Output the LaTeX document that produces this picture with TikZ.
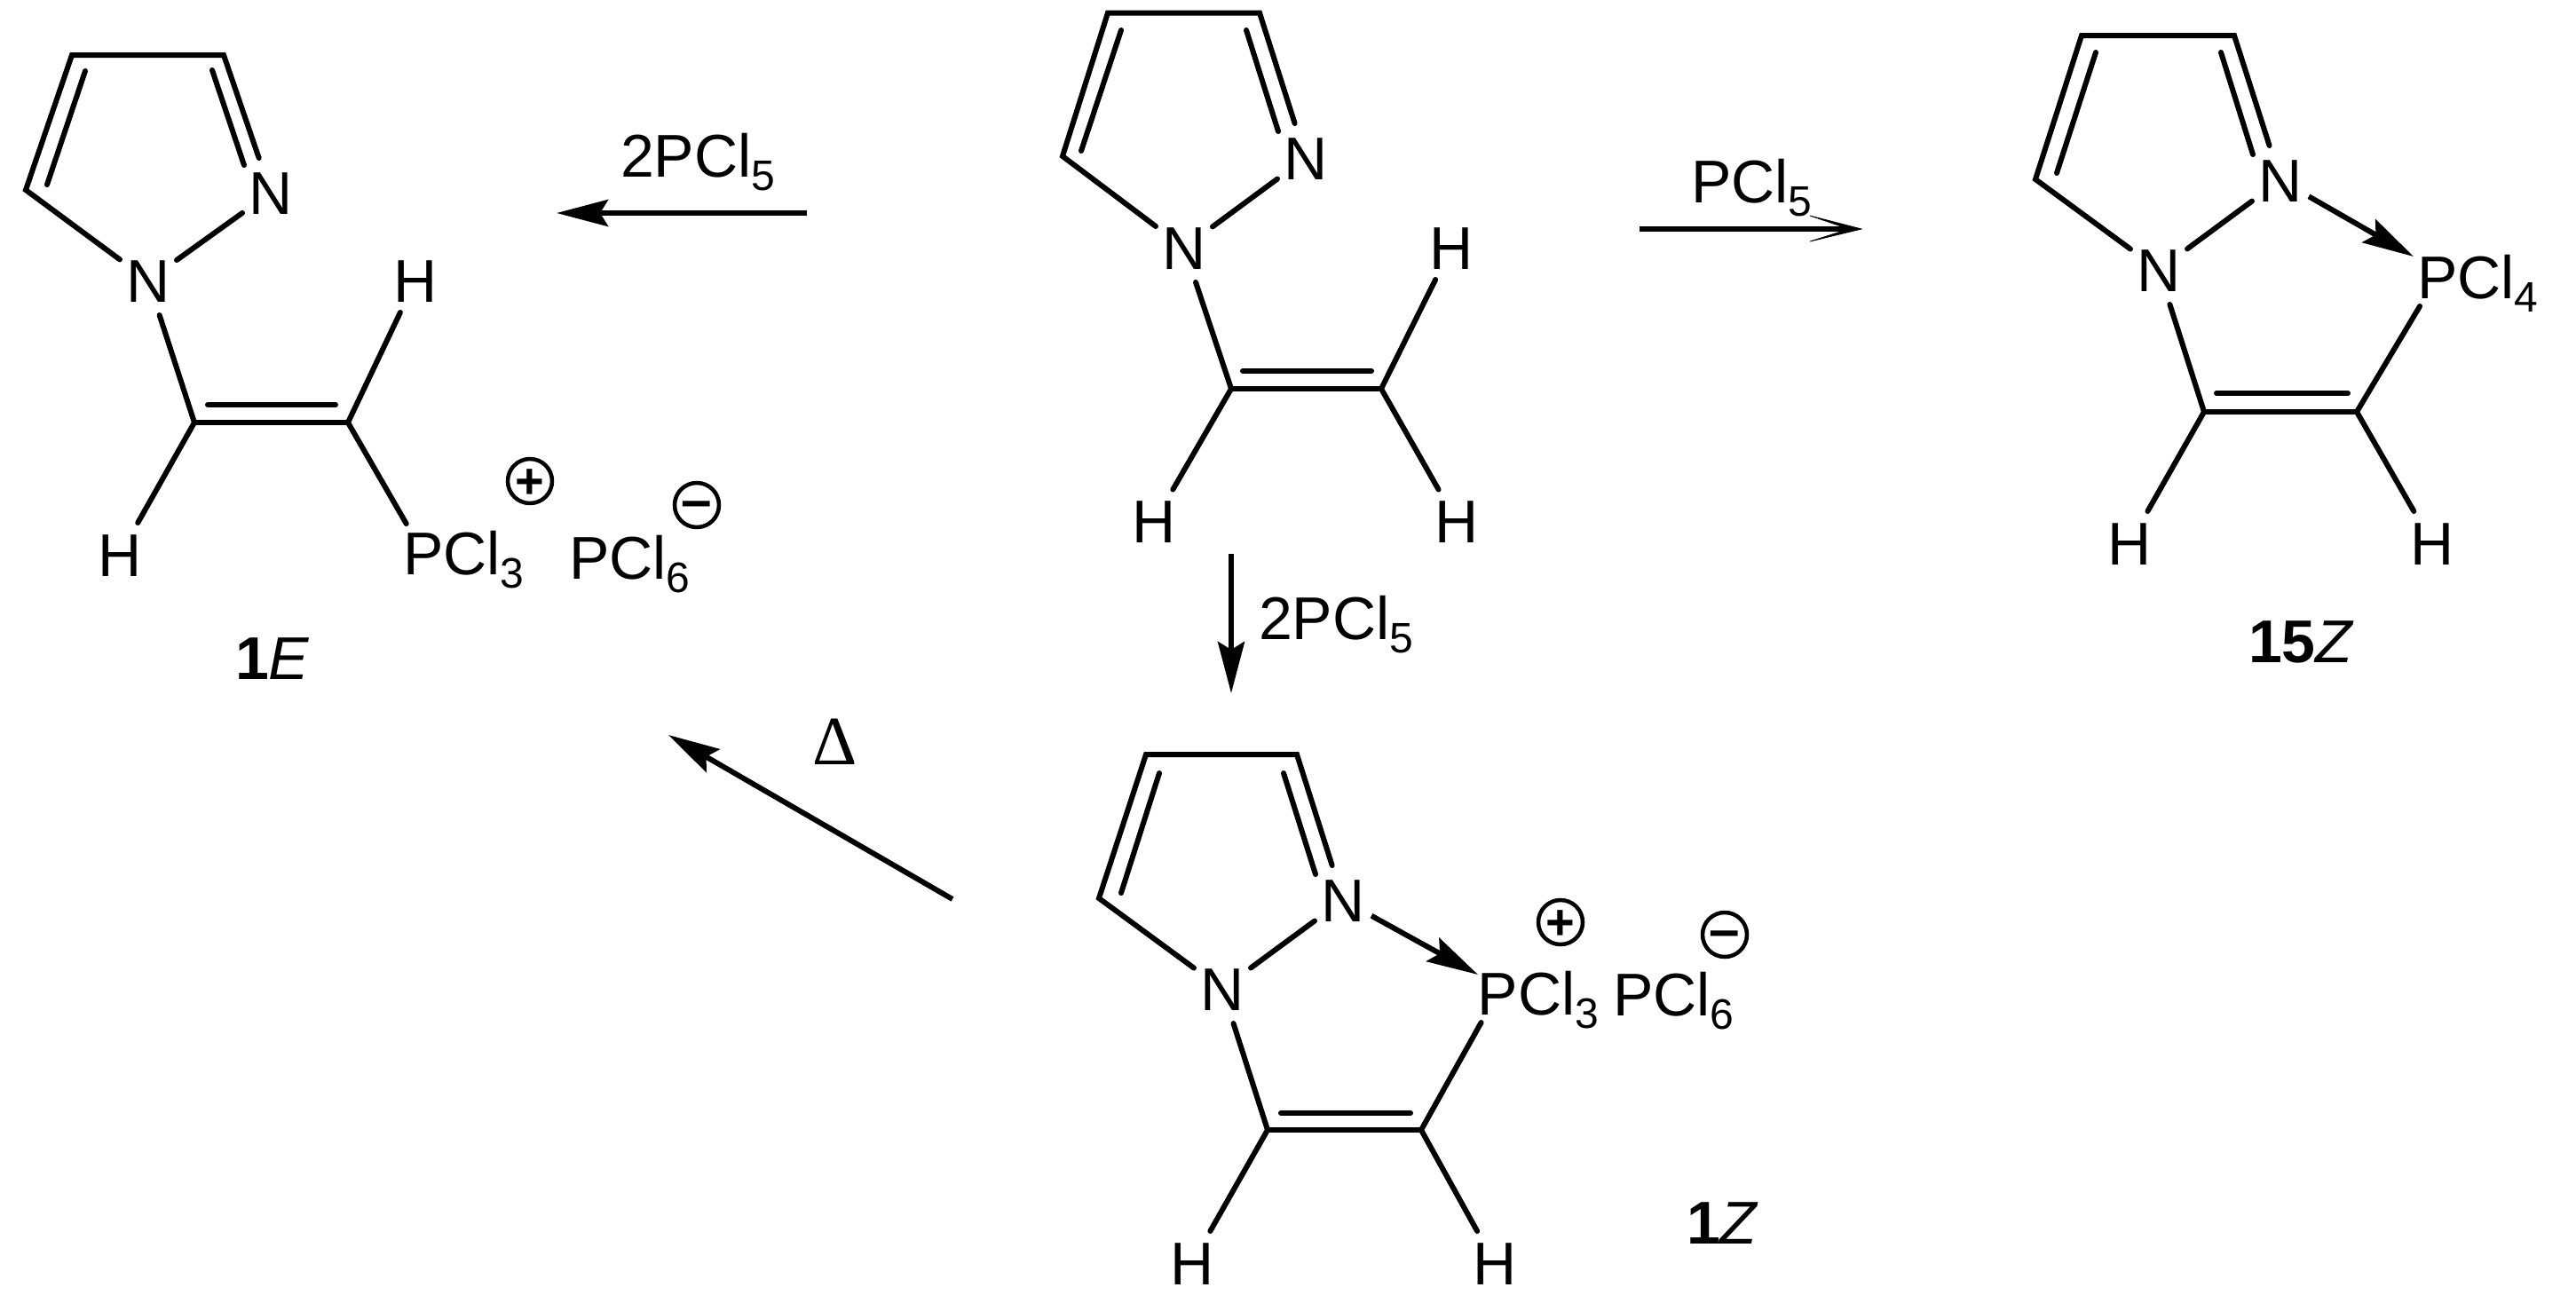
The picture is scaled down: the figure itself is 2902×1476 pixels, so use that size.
\documentclass[tikz,border=0pt]{standalone}
\usepackage{fontspec}
\setmainfont{Liberation Sans}
\newfontfamily\deltafont{Liberation Serif}
\usetikzlibrary{arrows.meta}
\newcommand{\bigtext}{\fontsize{68}{80}\selectfont}
\newcommand{\subdigit}[1]{\raisebox{-15pt}{\fontsize{48}{50}\selectfont #1}}
\tikzset{
  bond/.style={line width=6pt,line cap=round,line join=miter,draw=black},
  rxn/.style={line width=6pt,line cap=butt,draw=black,-{Stealth[length=58pt,width=30pt,inset=9pt]}},
  plainrxn/.style={line width=6pt,line cap=butt,draw=black},
  thinbarb/.style={fill=black,draw=black,line width=0.8pt,line join=miter},
  atom/.style={inner sep=0pt,outer sep=0pt,minimum width=64pt,minimum height=78pt,text height=48.7pt,text depth=0pt,font=\bigtext},
  hatom/.style={atom,minimum height=72pt},
  patom/.style={atom,minimum width=40pt,minimum height=66pt},
  txt/.style={anchor=base west,inner sep=0pt,outer sep=0pt,font=\bigtext},
  chg/.style={circle,draw=black,line width=4.5pt,inner sep=0pt,minimum size=50pt,text height=0pt,text depth=0pt},
}
\newcommand{\pluscharge}{\raisebox{-19pt}[0pt][0pt]{\fontsize{56}{60}\selectfont\bfseries +}}
\newcommand{\minuscharge}{\raisebox{-15pt}[0pt][0pt]{\fontsize{62}{60}\selectfont\bfseries –}}
\begin{document}
\begin{tikzpicture}[x=1pt,y=-1pt]
\useasboundingbox (0,0) rectangle (2902,1476);

% ---- 1E (left)
\coordinate (aTL) at (81,62);
\coordinate (aTR) at (252,62);
\coordinate (aL) at (29,214);
\coordinate (aC1) at (219,476);
\coordinate (aC2) at (392,476);
\node[atom] (aN2) at (305,217) {N};
\node[atom] (aN1) at (167,316) {N};
\node[hatom] (aH1) at (135,625) {H};
\node[hatom] (aH2) at (468,316) {H};
\node[patom] (aP) at (476.7,623) {P};
\node[txt] (aCl) at (499.4,647) {Cl\subdigit{3}};
\node[txt] (aAn) at (641,652) {PCl\subdigit{6}};
\node[chg] (aPlus) at (597,542) {\pluscharge};
\node[chg] (aMinus) at (785,569) {\minuscharge};
\node[txt] (aName) at (265,765) {\textbf{1}\textit{E}};
\draw[bond] (aN2) -- (aTR) -- (aTL) -- (aL) -- (aN1);
\draw[bond] (aN1) -- (aN2);
\draw[bond] (aN1) -- (aC1);
\draw[bond] (aC1) -- (aC2);
\draw[bond] (aC1) -- (aH1);
\draw[bond] (aC2) -- (aH2);
\draw[bond] (aC2) -- (aP);
\coordinate (aI1) at (96,80); \coordinate (aI2) at (53,208);
\coordinate (aI3) at (239,79); \coordinate (aI4) at (275,186);
\coordinate (aI5) at (234,456); \coordinate (aI6) at (378,456);
\draw[bond] (aI1) -- (aI2);
\draw[bond] (aI3) -- (aI4);
\draw[bond] (aI5) -- (aI6);

% ---- start material (centre)
\coordinate (bTL) at (1248,14.5);
\coordinate (bTR) at (1419,14.5);
\coordinate (bL) at (1197,176);
\coordinate (bC1) at (1387,438);
\coordinate (bC2) at (1556,438);
\node[atom] (bN2) at (1471,178) {N};
\node[atom] (bN1) at (1334,279) {N};
\node[hatom] (bH1) at (1300.5,587.5) {H};
\node[hatom] (bH2) at (1641,587.5) {H};
\node[hatom] (bH3) at (1635,279) {H};
\draw[bond] (bN2) -- (bTR) -- (bTL) -- (bL) -- (bN1);
\draw[bond] (bN1) -- (bN2);
\draw[bond] (bN1) -- (bC1);
\draw[bond] (bC1) -- (bC2);
\draw[bond] (bC1) -- (bH1);
\draw[bond] (bC2) -- (bH2);
\draw[bond] (bC2) -- (bH3);
\coordinate (bI1) at (1263,34); \coordinate (bI2) at (1218,170);
\coordinate (bI3) at (1404,34); \coordinate (bI4) at (1440,148);
\coordinate (bI5) at (1400,418); \coordinate (bI6) at (1545,418);
\draw[bond] (bI1) -- (bI2);
\draw[bond] (bI3) -- (bI4);
\draw[bond] (bI5) -- (bI6);

% ---- 15Z (right)
\coordinate (cTL) at (2345,40);
\coordinate (cTR) at (2517,40);
\coordinate (cL) at (2293,202);
\coordinate (cC1) at (2483,464);
\coordinate (cC2) at (2655,464);
\node[atom] (cN2) at (2569,203) {N};
\node[atom] (cN1) at (2432,304) {N};
\node[hatom] (cH1) at (2399,612) {H};
\node[hatom] (cH2) at (2740,612) {H};
\node[patom] (cP) at (2745.7,312) {P};
\node[txt] (cCl) at (2768.4,336) {Cl\subdigit{4}};
\node[txt] (cName) at (2533,746) {\textbf{15}\textit{Z}};
\draw[bond] (cN2) -- (cTR) -- (cTL) -- (cL) -- (cN1);
\draw[bond] (cN1) -- (cN2);
\draw[bond] (cN1) -- (cC1);
\draw[bond] (cC1) -- (cC2);
\draw[bond] (cC1) -- (cH1);
\draw[bond] (cC2) -- (cH2);
\draw[bond] (cC2) -- (cP);
\coordinate (cI1) at (2361,59); \coordinate (cI2) at (2317,195);
\coordinate (cI3) at (2502,59); \coordinate (cI4) at (2538,174);
\coordinate (cI5) at (2497,443); \coordinate (cI6) at (2645,443);
\draw[bond] (cI1) -- (cI2);
\draw[bond] (cI3) -- (cI4);
\draw[bond] (cI5) -- (cI6);
\coordinate (cTip) at (2719,289);
\draw[rxn] (cN2) -- (cTip);

% ---- 1Z (bottom)
\coordinate (dTL) at (1291,850);
\coordinate (dTR) at (1461,850);
\coordinate (dL) at (1238,1012);
\coordinate (dC1) at (1428,1273);
\coordinate (dC2) at (1601,1273);
\node[atom] (dN2) at (1513,1014) {N};
\node[atom] (dN1) at (1377,1114) {N};
\node[hatom] (dH1) at (1343,1423) {H};
\node[hatom] (dH2) at (1684,1423) {H};
\node[patom] (dP) at (1687,1119) {P};
\node[txt] (dCl) at (1710.4,1143) {Cl\subdigit{3}};
\node[txt] (dAn) at (1817,1144) {PCl\subdigit{6}};
\node[chg] (dPlus) at (1758,1039) {\pluscharge};
\node[chg] (dMinus) at (1943,1053) {\minuscharge};
\node[txt] (dName) at (1900,1401) {\textbf{1}\textit{Z}};
\draw[bond] (dN2) -- (dTR) -- (dTL) -- (dL) -- (dN1);
\draw[bond] (dN1) -- (dN2);
\draw[bond] (dN1) -- (dC1);
\draw[bond] (dC1) -- (dC2);
\draw[bond] (dC1) -- (dH1);
\draw[bond] (dC2) -- (dH2);
\draw[bond] (dC2) -- (dP);
\coordinate (dI1) at (1306,871); \coordinate (dI2) at (1263,1006);
\coordinate (dI3) at (1446,871); \coordinate (dI4) at (1482,985);
\coordinate (dI5) at (1443,1254); \coordinate (dI6) at (1589,1254);
\draw[bond] (dI1) -- (dI2);
\draw[bond] (dI3) -- (dI4);
\draw[bond] (dI5) -- (dI6);
\coordinate (dTip) at (1665,1098);
\draw[rxn] (dN2) -- (dTip);

% ---- reaction arrows
\coordinate (r1a) at (909,240); \coordinate (r1b) at (627,240);
\draw[rxn] (r1a) -- (r1b);
\node[txt] (r1t) at (699,199) {2PCl\subdigit{5}};
\coordinate (r2a) at (1847,258); \coordinate (r2n) at (2083,258); \coordinate (r2b) at (2097,258);
\coordinate (r2u) at (2039,243); \coordinate (r2d) at (2039,272);
\draw[plainrxn] (r2a) -- (r2n);
\filldraw[thinbarb] (r2b) -- (r2u) -- (r2n) -- (r2d) -- cycle;
\node[txt] (r2t) at (1905,228) {PCl\subdigit{5}};
\coordinate (r3a) at (1387,624); \coordinate (r3b) at (1387,781);
\draw[rxn] (r3a) -- (r3b);
\node[txt] (r3t) at (1418,720) {2PCl\subdigit{5}};
\coordinate (r4a) at (1073,1013); \coordinate (r4b) at (753,828);
\draw[rxn] (r4a) -- (r4b);
\node[inner sep=0pt] (r4t) at (940.5,836) {\deltafont\fontsize{78}{80}\selectfont Δ};
\end{tikzpicture}
\end{document}
